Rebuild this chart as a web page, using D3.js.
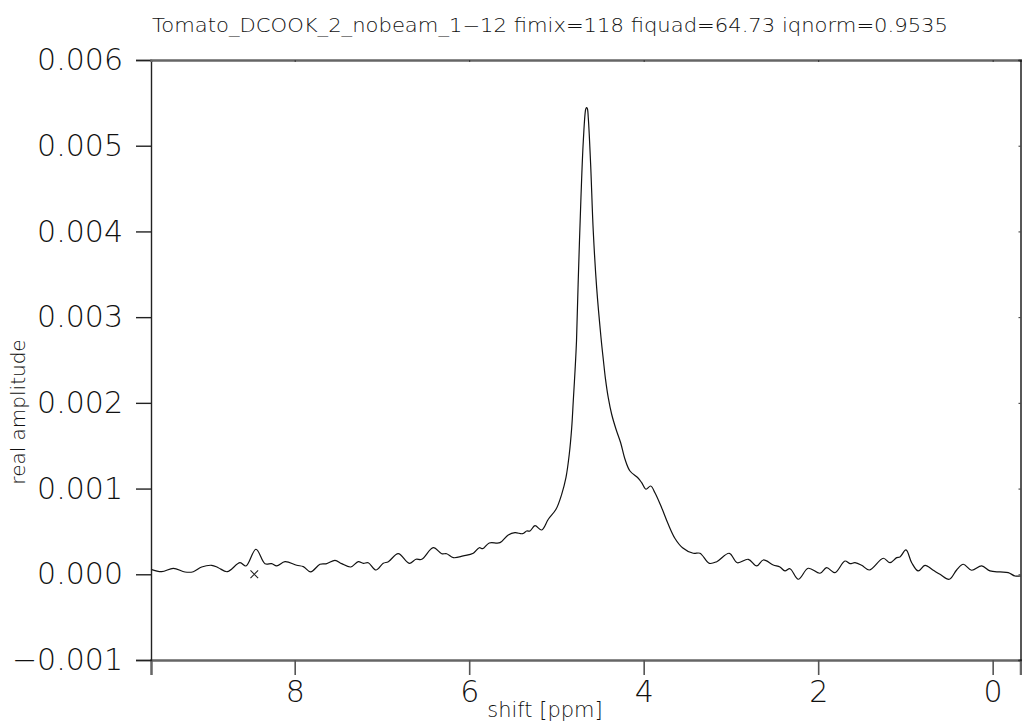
<!DOCTYPE html>
<html>
<head>
<meta charset="utf-8">
<script src="https://cdn.jsdelivr.net/npm/d3@7"></script>
<style>
  body { margin: 0; background: #fff; }
  text { font-family: "DejaVu Sans", sans-serif; font-weight: 200; fill: #111; }
</style>
</head>
<body>
<div id="chart"></div>
<script>
var titleText = "Tomato_DCOOK_2_nobeam_1\u221212  fimix=118  fiquad=64.73  iqnorm=0.9535";
var xTicks = [8, 6, 4, 2, 0];
var yTicks = [-0.001, 0.000, 0.001, 0.002, 0.003, 0.004, 0.005, 0.006];

// chemical shift [ppm]
var shift = [9.647, 9.524, 9.391, 9.257, 9.162, 9.066, 8.951, 8.876, 8.773, 8.627,
    8.558, 8.444, 8.340, 8.264, 8.206, 8.111, 7.977, 7.901, 7.817, 7.710,
    7.633, 7.538, 7.461, 7.358, 7.271, 7.214, 7.157, 7.068, 6.985, 6.927,
    6.813, 6.687, 6.610, 6.544, 6.412, 6.315, 6.258, 6.182, 6.068, 5.953,
    5.884, 5.845, 5.770, 5.647, 5.552, 5.475, 5.387, 5.341, 5.303, 5.246,
    5.169, 5.093, 5.005, 4.940, 4.891, 4.853, 4.825, 4.807, 4.787, 4.770,
    4.750, 4.719, 4.692, 4.665, 4.656, 4.646, 4.635, 4.608, 4.578, 4.539,
    4.489, 4.461, 4.438, 4.406, 4.367, 4.317, 4.264, 4.214, 4.157, 4.062,
    4.023, 3.974, 3.920, 3.871, 3.794, 3.718, 3.641, 3.555, 3.432, 3.355,
    3.248, 3.163, 3.019, 2.927, 2.801, 2.705, 2.629, 2.515, 2.438, 2.381,
    2.323, 2.228, 2.114, 1.979, 1.903, 1.808, 1.693, 1.636, 1.578, 1.501,
    1.414, 1.254, 1.177, 1.100, 1.063, 0.994, 0.928, 0.853, 0.776, 0.681,
    0.604, 0.497, 0.413, 0.337, 0.241, 0.126, 0.031, -0.084, -0.179, -0.256,
    -0.319];

// real amplitude
var amplitude = [0.000058, 0.000030, 0.000070, 0.000027, 0.000030, 0.000085, 0.000105, 0.000077, 0.000030, 0.000135,
    0.000097, 0.000292, 0.000124, 0.000124, 0.000097, 0.000147, 0.000105, 0.000089, 0.000027, 0.000117,
    0.000124, 0.000163, 0.000124, 0.000085, 0.000147, 0.000128, 0.000135, 0.000050, 0.000128, 0.000147,
    0.000240, 0.000128, 0.000175, 0.000175, 0.000310, 0.000240, 0.000240, 0.000194, 0.000214, 0.000245,
    0.000310, 0.000299, 0.000365, 0.000369, 0.000459, 0.000485, 0.000474, 0.000505, 0.000505, 0.000567,
    0.000517, 0.000642, 0.000758, 0.000933, 0.001127, 0.001400, 0.001710, 0.002022, 0.002372, 0.002722,
    0.003430, 0.004394, 0.005055, 0.005425, 0.005446, 0.005435, 0.005327, 0.004784, 0.004005, 0.003344,
    0.002760, 0.002489, 0.002279, 0.002060, 0.001867, 0.001692, 0.001535, 0.001342, 0.001205, 0.001120,
    0.001069, 0.000992, 0.001030, 0.000952, 0.000777, 0.000583, 0.000418, 0.000310, 0.000245, 0.000245,
    0.000128, 0.000147, 0.000245, 0.000135, 0.000175, 0.000097, 0.000167, 0.000109, 0.000085, 0.000039,
    0.000065, -0.000058, 0.000070, 0.000012, 0.000077, 0.000019, 0.000155, 0.000124, 0.000135, 0.000105,
    0.000050, 0.000187, 0.000135, 0.000194, 0.000202, 0.000284, 0.000135, 0.000039, 0.000105, 0.000047,
    0.000000, -0.000058, 0.000050, 0.000117, 0.000047, 0.000097, 0.000039, 0.000027, 0.000019, -0.000020,
    -0.000020];

var markerShift = [8.463];
var markerAmp = [0.0];

var W = 1022, H = 722;
var plotL = 151, plotR = 1020.5, plotT = 60, plotB = 660;

var svg = d3.select("#chart").append("svg")
    .attr("width", W)
    .attr("height", H);

var x = d3.scaleLinear().domain([9.647, -0.319]).range([plotL, plotR]);
var y = d3.scaleLinear().domain([-0.001, 0.006]).range([plotB, plotT]);

var data = shift.map((s, i) => ({s: s, a: amplitude[i]}));

// curve
var line = d3.line()
    .x(d => x(d.s))
    .y(d => y(d.a))
    .curve(d3.curveCatmullRom.alpha(0.5));

svg.append("path")
    .datum(data)
    .attr("d", line)
    .attr("fill", "none")
    .attr("stroke", "#111")
    .attr("stroke-width", 1.2);

// axes
var xAxis = d3.axisBottom(x).tickValues(xTicks).tickSize(15).tickPadding(6).tickFormat(d3.format("d"));
var gx = svg.append("g")
    .attr("transform", "translate(0," + plotB + ")")
    .call(xAxis);
gx.select(".domain").attr("stroke", "#666").attr("stroke-width", 2.5);
gx.selectAll(".tick line").attr("stroke", "#555").attr("stroke-width", 1.6);
gx.selectAll(".tick text")
    .style("font-size", "30px")
    .attr("fill", "#111");

var yAxis = d3.axisLeft(y).tickValues(yTicks).tickSize(15).tickPadding(13)
    .tickFormat(d => d3.format(".3f")(d).replace("-", "\u2212"));
var gy = svg.append("g")
    .attr("transform", "translate(" + plotL + ",0)")
    .call(yAxis);
gy.select(".domain").attr("stroke", "#222").attr("stroke-width", 1.4);
gy.selectAll(".tick line").attr("stroke", "#222").attr("stroke-width", 1.4);
gy.selectAll(".tick text")
    .style("font-size", "30px")
    .attr("fill", "#111");

// top and right frame with tiny inner ticks
var gt = svg.append("g")
    .attr("transform", "translate(0," + plotT + ")")
    .call(d3.axisBottom(x).tickValues(xTicks).tickSize(2).tickFormat(""));
gt.select(".domain").attr("stroke", "#666").attr("stroke-width", 2.5);
gt.selectAll(".tick line").attr("stroke", "#333");

var gr = svg.append("g")
    .attr("transform", "translate(" + plotR + ",0)")
    .call(d3.axisLeft(y).tickValues(yTicks).tickSize(2).tickFormat(""));
gr.select(".domain").attr("stroke", "#111").attr("stroke-width", 1.4);
gr.selectAll(".tick line").attr("stroke", "#333");

// marker
svg.selectAll(".marker")
    .data(markerShift)
    .enter().append("path")
    .attr("class", "marker")
    .attr("transform", (d, i) => "translate(" + x(d) + "," + y(markerAmp[i]) + ")")
    .attr("d", d3.symbol(d3.symbolTimes, 40))
    .attr("fill", "none")
    .attr("stroke", "#222")
    .attr("stroke-width", 1.1);

// labels
svg.append("text")
    .attr("x", 550)
    .attr("y", 32)
    .attr("text-anchor", "middle")
    .style("font-size", "19px")
    .attr("textLength", 796)
    .attr("lengthAdjust", "spacingAndGlyphs")
    .text(titleText);

svg.append("text")
    .attr("x", 545)
    .attr("y", 717)
    .attr("text-anchor", "middle")
    .style("font-size", "21px")
    .text("shift [ppm]");

svg.append("text")
    .attr("transform", "translate(25,412) rotate(-90)")
    .attr("text-anchor", "middle")
    .style("font-size", "20px")
    .text("real amplitude");
</script>
</body>
</html>
